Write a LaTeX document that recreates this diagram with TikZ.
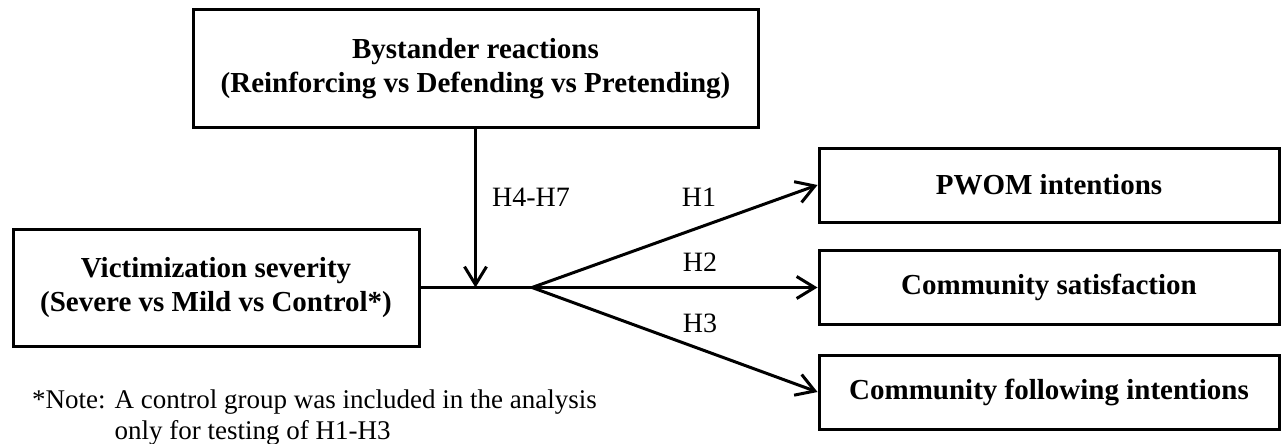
\documentclass[tikz,border=0pt]{standalone}
\usepackage{fontspec}
\setmainfont{Liberation Serif}
\usetikzlibrary{arrows.meta}
\begin{document}
\begin{tikzpicture}[x=1pt,y=-1pt,
  box/.style={draw, line width=3pt, inner sep=0pt, align=center,
    font=\fontsize{29}{35}\selectfont\bfseries},
  conn/.style={line width=3pt},
  arr/.style={conn, -{Straight Barb[length=18pt,width=22pt,line width=3pt]}},
  hlab/.style={font=\fontsize{28}{34}\selectfont, inner sep=0pt}]
\useasboundingbox (0,0) rectangle (1282,444);
\node[box, minimum width=565pt, minimum height=117pt] (bys) at (475.5,68.5)
  {\raisebox{-3pt}{\begin{tabular}{@{}c@{}}Bystander reactions\\[-1pt](Reinforcing vs Defending vs Pretending)\end{tabular}}};
\node[box, minimum width=406pt, minimum height=117pt] (vic) at (216,287.5)
  {\raisebox{-2pt}{\begin{tabular}{@{}c@{}}Victimization severity\\[-1pt](Severe vs Mild vs Control*)\end{tabular}}};
\node[box, minimum width=460pt, minimum height=74pt] (pwom) at (1049,185)
  {PWOM intentions};
\node[box, minimum width=460pt, minimum height=74pt] (sat) at (1049,287.5)
  {Community satisfaction};
\node[box, minimum width=460pt, minimum height=74pt] (fol) at (1049,392)
  {Community following intentions};
\coordinate (j) at (475.5,287.5);
\coordinate (b) at (532,287.5);
\draw[conn] (vic.east) -- (b);
\draw[arr] (bys.south) -- (j);
\draw[arr] (b) -- (pwom.west);
\draw[arr] (b) -- (sat.west);
\draw[arr] (b) -- (fol.west);
\node[hlab] (l47) at (531,197) {H4-H7};
\node[hlab] (l1) at (699,197) {H1};
\node[hlab] (l2) at (700,262) {H2};
\node[hlab] (l3) at (700,323) {H3};
\node[font=\fontsize{27}{31}\selectfont, align=left, anchor=north west, inner sep=0pt] (note) at (32,390)
  {*Note: A control group was included in the analysis\\\phantom{*Note: }only for testing of H1-H3};
\end{tikzpicture}
\end{document}
